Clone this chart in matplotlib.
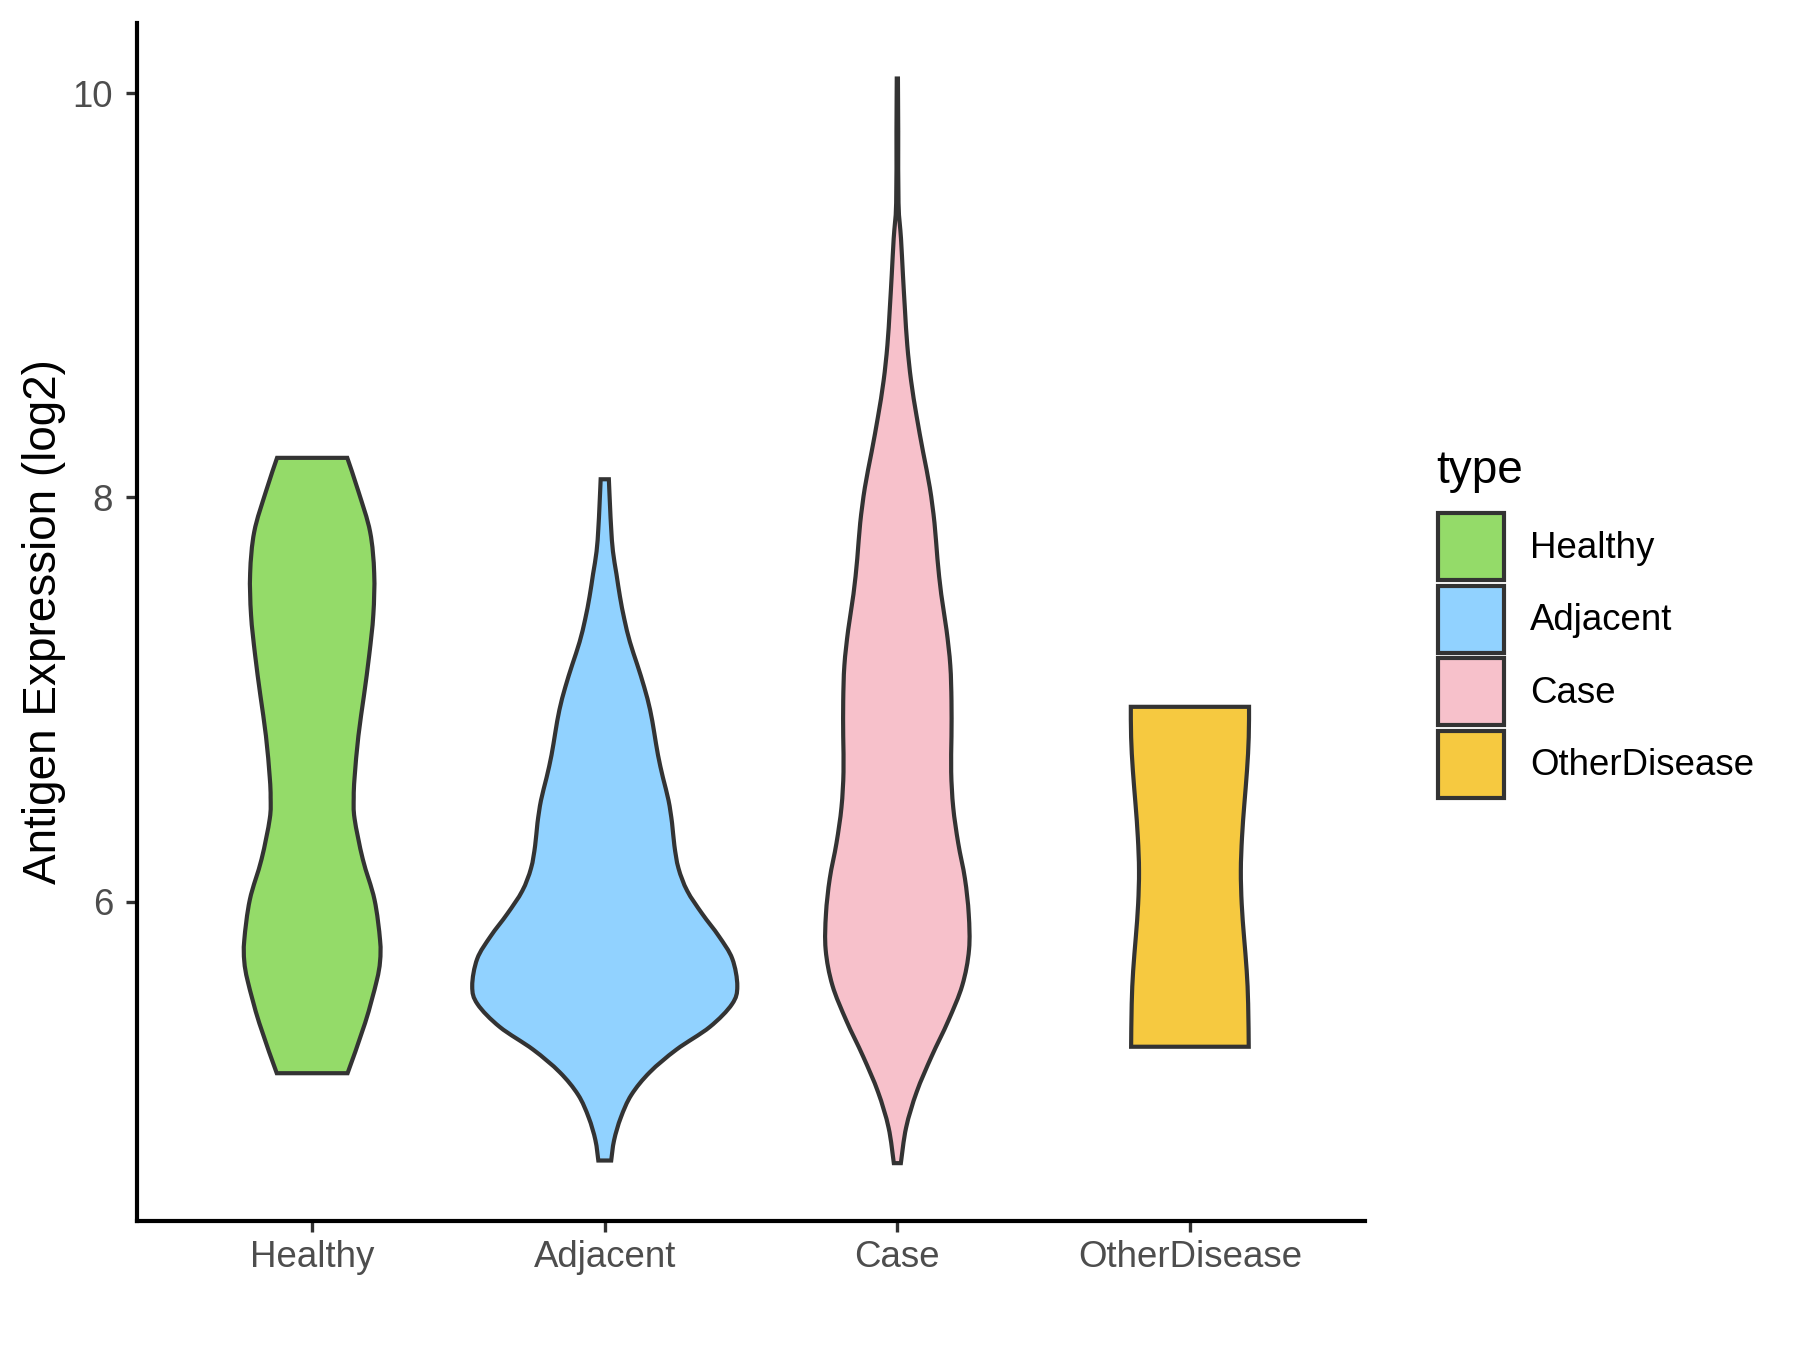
import numpy as np
import matplotlib.pyplot as plt
from matplotlib.patches import Patch, PathPatch
from matplotlib.path import Path

plt.rcParams['font.family'] = ['Liberation Sans', 'DejaVu Sans']

groups = ['Healthy', 'Adjacent', 'Case', 'OtherDisease']
colors = ['#94DB69', '#91D2FF', '#F7C1CB', '#F6C940']

# violin outlines: y value and half width (in x units)
healthy_y = [8.196, 8.03, 7.83, 7.625, 7.42, 7.22, 7.02, 6.82, 6.615, 6.515,
             6.41, 6.21, 6.01, 5.81, 5.705, 5.605, 5.40, 5.151]
healthy_w = [0.120, 0.158, 0.198, 0.212, 0.209, 0.195, 0.177, 0.158, 0.145, 0.142,
             0.145, 0.173, 0.213, 0.232, 0.232, 0.220, 0.181, 0.121]

adjacent_y = [8.09, 7.958, 7.845, 7.733, 7.621, 7.509, 7.397, 7.285, 7.173, 7.061,
              6.949, 6.837, 6.725, 6.613, 6.501, 6.389, 6.277, 6.165, 6.053, 5.94,
              5.829, 5.717, 5.582, 5.493, 5.38, 5.268, 5.156, 5.044, 4.932, 4.82,
              4.719]
adjacent_w = [0.014, 0.018, 0.022, 0.028, 0.040, 0.052, 0.067, 0.086, 0.111, 0.135,
              0.155, 0.169, 0.182, 0.199, 0.218, 0.230, 0.238, 0.252, 0.282, 0.333,
              0.390, 0.436, 0.453, 0.435, 0.359, 0.245, 0.154, 0.091, 0.055, 0.032,
              0.022]

case_y = [10.073, 9.81, 9.457, 9.281, 9.105, 8.929, 8.753, 8.577, 8.401, 8.225,
          8.049, 7.873, 7.697, 7.521, 7.345, 7.169, 6.993, 6.818, 6.642, 6.466,
          6.29, 6.114, 5.938, 5.762, 5.586, 5.41, 5.234, 5.058, 4.882, 4.706]
case_w = [0.002, 0.003, 0.004, 0.0125, 0.019, 0.026, 0.034, 0.047, 0.066, 0.088,
          0.111, 0.127, 0.137, 0.150, 0.168, 0.181, 0.185, 0.185, 0.184, 0.191,
          0.208, 0.231, 0.244, 0.245, 0.222, 0.174, 0.117, 0.066, 0.030, 0.012]

other_y = [6.964, 6.813, 6.648, 6.483, 6.318, 6.153, 5.988, 5.824, 5.659, 5.494, 5.282]
other_w = [0.202, 0.201, 0.195, 0.186, 0.178, 0.174, 0.177, 0.185, 0.194, 0.199, 0.201]

profiles = [(healthy_y, healthy_w), (adjacent_y, adjacent_w),
            (case_y, case_w), (other_y, other_w)]

yticks = [6, 8, 10]


def smooth_side(pts):
    # catmull-rom through the read points, as bezier segments
    pts = np.asarray(pts)
    ext = np.vstack([pts[0], pts, pts[-1]])
    verts, codes = [], []
    for k in range(1, len(ext) - 2):
        p0, p1, p2, p3 = ext[k - 1], ext[k], ext[k + 1], ext[k + 2]
        verts += [p1 + (p2 - p0) / 6, p2 - (p3 - p1) / 6, p2]
        codes += [Path.CURVE4] * 3
    return verts, codes


def violin_path(pos, y, w):
    y = np.asarray(y)
    w = np.asarray(w)
    left = np.column_stack([pos - w, y])
    right = np.column_stack([pos + w, y])[::-1]
    verts = [left[0]]
    codes = [Path.MOVETO]
    v, c = smooth_side(left)
    verts += v
    codes += c
    verts.append(right[0])
    codes.append(Path.LINETO)
    v, c = smooth_side(right)
    verts += v
    codes += c
    verts.append(left[0])
    codes.append(Path.CLOSEPOLY)
    return Path(verts, codes)


fig = plt.figure(figsize=(6, 4.5), dpi=300)
ax = fig.add_axes([0.0759, 0.0956, 0.6827, 0.8877])

for i, (y, w) in enumerate(profiles):
    patch = PathPatch(violin_path(i + 1, y, w), facecolor=colors[i],
                      edgecolor='#333333', linewidth=1.0, joinstyle='miter', zorder=2)
    ax.add_patch(patch)

ax.set_xlim(0.4, 4.6)
ax.set_ylim(4.42, 10.35)
ax.set_xticks(range(1, 5))
ax.set_xticklabels(groups)
ax.set_yticks(yticks)
ax.set_ylabel('Antigen Expression (log2)', fontsize=11, color='black', labelpad=1.6)

for side in ['top', 'right']:
    ax.spines[side].set_visible(False)
for side in ['left', 'bottom']:
    ax.spines[side].set_linewidth(1.0)
    ax.spines[side].set_color('black')

ax.tick_params(axis='both', length=2.75, width=0.8, color='#333333',
               labelsize=8.8, labelcolor='#4D4D4D')
ax.tick_params(axis='x', pad=1.9)
ax.tick_params(axis='y', pad=2.9)

fig.text(1436 / 1800, 1 - 483 / 1350, 'type', fontsize=11, ha='left', va='baseline')
handles = [Patch(facecolor=c, edgecolor='#333333', linewidth=1.0) for c in colors]
fig.legend(handles, groups, loc='upper left',
           bbox_to_anchor=(1438 / 1800, 1 - 513 / 1350), frameon=False,
           fontsize=8.8, handlelength=1.8, handleheight=2.45,
           labelspacing=0.14, handletextpad=0.72, borderpad=0, borderaxespad=0)

fig.savefig('out.png', dpi=300)
